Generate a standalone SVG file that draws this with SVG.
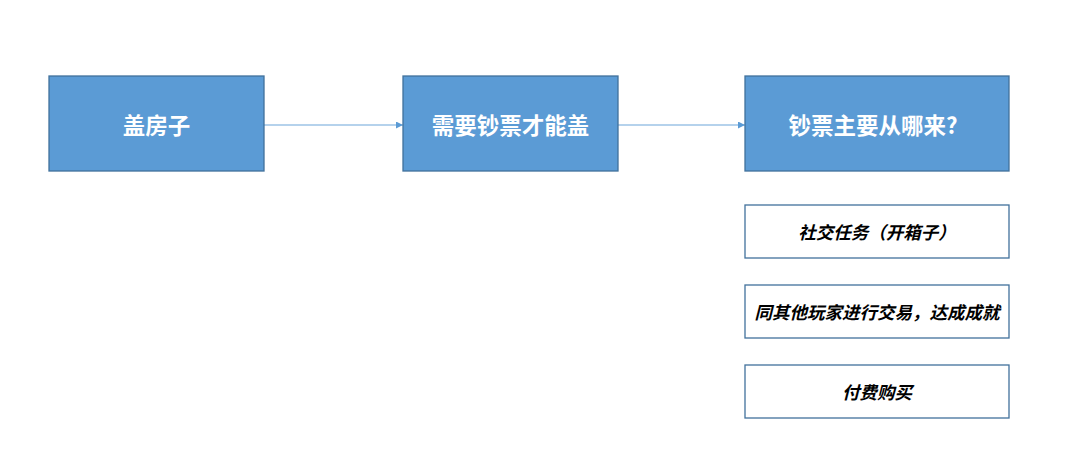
<svg xmlns="http://www.w3.org/2000/svg" width="1080" height="466" viewBox="0 0 1080 466">
<style>
.main{fill:#5B9BD5;stroke:#41719C;stroke-width:1.3}
.sub{fill:#FFFFFF;stroke:#41719C;stroke-width:1.3}
.mt{font-family:"Noto Sans CJK SC","Liberation Sans",sans-serif;font-size:22.5px;font-weight:bold;fill:#FFFFFF;text-anchor:middle;dominant-baseline:central}
.st{font-family:"Noto Sans CJK SC","Liberation Sans",sans-serif;font-size:17.5px;font-weight:bold;font-style:italic;fill:#000000;text-anchor:middle;dominant-baseline:central}
.conn{stroke:#9DC3E6;stroke-width:1.5;fill:none}
</style>
<defs>
<marker id="arr" viewBox="0 0 10 10" refX="10" refY="5" markerWidth="7" markerHeight="7" markerUnits="userSpaceOnUse" orient="auto">
<path d="M0,0 L10,5 L0,10 z" fill="#5B9BD5"/>
</marker>
</defs>
<rect width="1080" height="466" fill="#FFFFFF"/>
<g id="connectors">
<line class="conn" x1="264" y1="125" x2="403" y2="125" marker-end="url(#arr)"/>
<line class="conn" x1="618" y1="125" x2="745" y2="125" marker-end="url(#arr)"/>
</g>
<g id="n1"><rect class="main" x="49" y="76" width="215" height="95"/><text class="mt" x="156.5" y="124">盖房子</text></g>
<g id="n2"><rect class="main" x="403" y="76" width="215" height="95"/><text class="mt" x="510.5" y="124">需要钞票才能盖</text></g>
<g id="n3"><rect class="main" x="745" y="76" width="264" height="95"/><text class="mt" x="873" y="124">钞票主要从哪来?</text></g>
<g id="s1"><rect class="sub" x="745" y="205" width="264" height="53"/><text class="st" x="877" y="231">社交任务（开箱子）</text></g>
<g id="s2"><rect class="sub" x="745" y="285" width="264" height="53"/><text class="st" x="877" y="311">同其他玩家进行交易，达成成就</text></g>
<g id="s3"><rect class="sub" x="745" y="365" width="264" height="53"/><text class="st" x="877" y="391">付费购买</text></g>
</svg>
